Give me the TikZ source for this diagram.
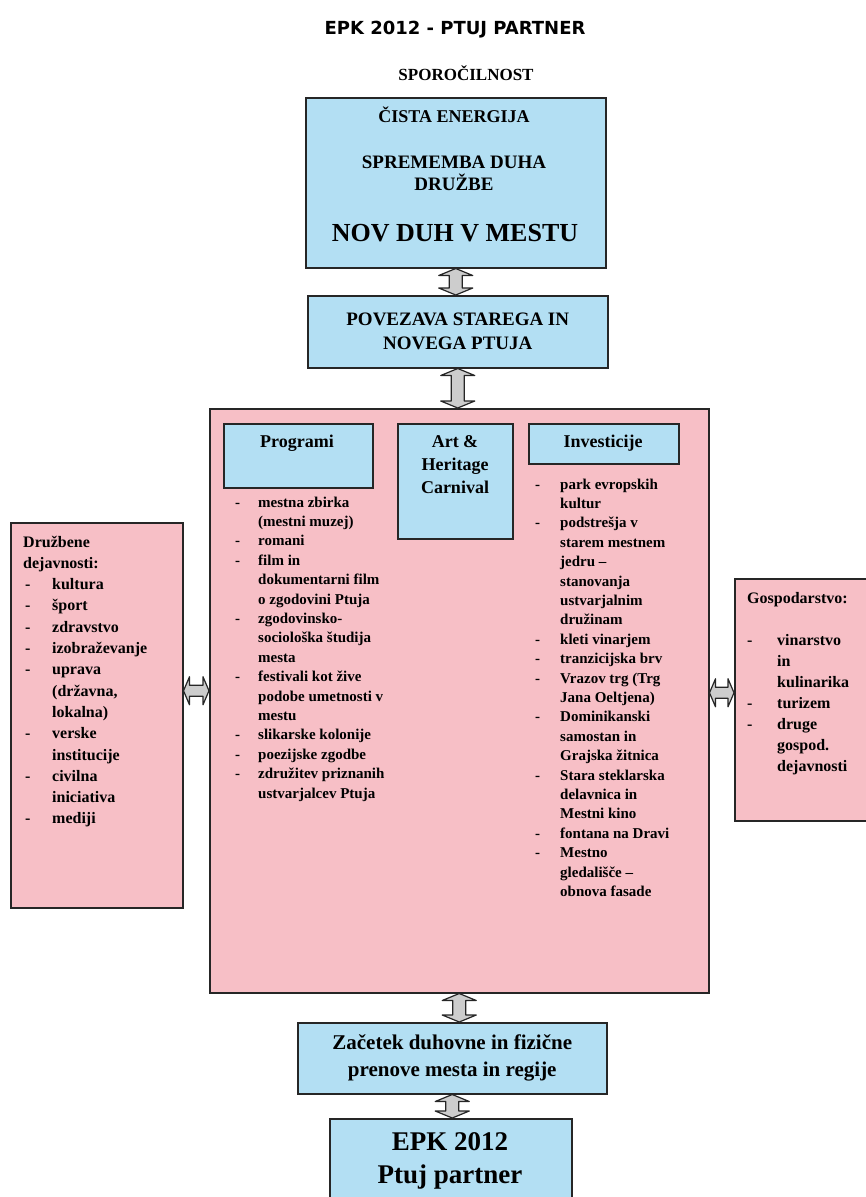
\documentclass[tikz,border=0pt]{standalone}
\usepackage{fontspec}
\setmainfont{Liberation Serif}
\newfontfamily\headfont{DejaVu Sans}
\usetikzlibrary{calc}

\definecolor{boxblue}{RGB}{179,223,243}
\definecolor{boxpink}{RGB}{247,191,198}
\definecolor{linkgrey}{RGB}{205,205,205}

\tikzset{
  bluebox/.style={draw=black!85, line width=1.5pt, fill=boxblue, anchor=north west, inner sep=0pt},
  pinkbox/.style={draw=black!85, line width=1.5pt, fill=boxpink, anchor=north west, inner sep=0pt},
  linkarrow/.style={draw=black!85, line width=1.2pt, fill=linkgrey, line join=round},
  boxtext/.style={align=center, inner sep=0pt},
  itemlist/.style={anchor=base west, inner sep=0pt},
}

% vertical double block arrow between two anchors
\newcommand\vlink[2]{%
  \draw[linkarrow] let \p1=(#1), \p2=(#2) in
    (\x1,\y1) -- (\x1+17pt,\y1-7pt) -- (\x1+6.5pt,\y1-7pt) -- (\x1+6.5pt,\y2+7pt)
    -- (\x1+17pt,\y2+7pt) -- (\x1,\y2) -- (\x1-17pt,\y2+7pt) -- (\x1-6.5pt,\y2+7pt)
    -- (\x1-6.5pt,\y1-7pt) -- (\x1-17pt,\y1-7pt) -- cycle;}
% horizontal double block arrow, height taken from #3
\newcommand\hlink[3]{%
  \draw[linkarrow] let \p1=(#1), \p2=(#2), \p3=(#3) in
    (\x1,\y3) -- (\x1+6pt,\y3+14pt) -- (\x1+6pt,\y3+5.5pt) -- (\x2-6pt,\y3+5.5pt)
    -- (\x2-6pt,\y3+14pt) -- (\x2,\y3) -- (\x2-6pt,\y3-14pt) -- (\x2-6pt,\y3-5.5pt)
    -- (\x1+6pt,\y3-5.5pt) -- (\x1+6pt,\y3-14pt) -- cycle;}

\begin{document}
\begin{tikzpicture}[x=1pt,y=-1pt]
\clip (0,0) rectangle (866,1197);

\node[boxtext, font=\headfont\bfseries\fontsize{18}{20}\selectfont] (title) at (455,30) {EPK 2012 - PTUJ PARTNER};
\node[boxtext, font=\bfseries\fontsize{17}{20}\selectfont] (message) at (466,73) {SPOROČILNOST};

% top
\node[bluebox, minimum width=300pt, minimum height=170pt] (energy) at (305,97) {};
\node[boxtext, font=\bfseries\fontsize{18}{22}\selectfont] (clean) at (454,115) {ČISTA ENERGIJA};
\node[boxtext, font=\bfseries\fontsize{19}{22}\selectfont] (change) at (454,173) {SPREMEMBA DUHA\\DRUŽBE};
\node[boxtext, font=\bfseries\fontsize{26}{30}\selectfont] (spirit) at (455,233) {NOV DUH V MESTU};

\node[bluebox, minimum width=300pt, minimum height=72pt, align=center,
  font=\bfseries\fontsize{19}{24}\selectfont] (link) at (307,295) {POVEZAVA STAREGA IN\\NOVEGA PTUJA};

% middle
\node[pinkbox, minimum width=499pt, minimum height=584pt] (main) at (209,408) {};
\node[bluebox, minimum width=149pt, minimum height=64pt] (programs) at (223,423) {};
\node[boxtext, font=\bfseries\fontsize{18}{20}\selectfont] (programs-title) at (297,443) {Programi};
\node[bluebox, minimum width=115pt, minimum height=115pt] (carnival) at (397,423) {};
\node[boxtext, font=\bfseries\fontsize{18}{23}\selectfont] (carnival-title) at (455,465) {Art \&\\Heritage\\Carnival};
\node[bluebox, minimum width=150pt, minimum height=40pt] (investments) at (528,423) {};
\node[boxtext, font=\bfseries\fontsize{18}{20}\selectfont] (investments-title) at (603,443) {Investicije};

\node[itemlist, font=\bfseries\fontsize{15}{19.4}\selectfont] (programs-list) at (235,507) {%
\begin{tabular}[t]{@{}p{23pt}@{}l@{}}
- & mestna zbirka\\
  & (mestni muzej)\\
- & romani\\
- & film in\\
  & dokumentarni film\\
  & o zgodovini Ptuja\\
- & zgodovinsko-\\
  & sociološka študija\\
  & mesta\\
- & festivali kot žive\\
  & podobe umetnosti v\\
  & mestu\\
- & slikarske kolonije\\
- & poezijske zgodbe\\
- & združitev priznanih\\
  & ustvarjalcev Ptuja
\end{tabular}};

\node[itemlist, font=\bfseries\fontsize{15}{19.4}\selectfont] (investments-list) at (535,489) {%
\begin{tabular}[t]{@{}p{25pt}@{}l@{}}
- & park evropskih\\
  & kultur\\
- & podstrešja v\\
  & starem mestnem\\
  & jedru –\\
  & stanovanja\\
  & ustvarjalnim\\
  & družinam\\
- & kleti vinarjem\\
- & tranzicijska brv\\
- & Vrazov trg (Trg\\
  & Jana Oeltjena)\\
- & Dominikanski\\
  & samostan in\\
  & Grajska žitnica\\
- & Stara steklarska\\
  & delavnica in\\
  & Mestni kino\\
- & fontana na Dravi\\
- & Mestno\\
  & gledališče –\\
  & obnova fasade
\end{tabular}};

% sides
\node[pinkbox, minimum width=172pt, minimum height=385pt] (social) at (10,522) {};
\node[itemlist, font=\bfseries\fontsize{16}{21.3}\selectfont] (social-list) at (23,547) {%
\begin{tabular}[t]{@{}p{29pt}@{}l@{}}
\multicolumn{2}{@{}l@{}}{Družbene}\\
\multicolumn{2}{@{}l@{}}{dejavnosti:}\\
\hspace*{2pt}- & kultura\\
\hspace*{2pt}- & šport\\
\hspace*{2pt}- & zdravstvo\\
\hspace*{2pt}- & izobraževanje\\
\hspace*{2pt}- & uprava\\
  & (državna,\\
  & lokalna)\\
\hspace*{2pt}- & verske\\
  & institucije\\
\hspace*{2pt}- & civilna\\
  & iniciativa\\
\hspace*{2pt}- & mediji
\end{tabular}};

\node[pinkbox, minimum width=140pt, minimum height=242pt] (economy) at (734,578) {};
\node[itemlist, font=\bfseries\fontsize{16}{21}\selectfont] (economy-list) at (747,603) {%
\begin{tabular}[t]{@{}p{30pt}@{}l@{}}
\multicolumn{2}{@{}l@{}}{Gospodarstvo:}\\
 & \\
- & vinarstvo\\
  & in\\
  & kulinarika\\
- & turizem\\
- & druge\\
  & gospod.\\
  & dejavnosti
\end{tabular}};

% bottom
\node[bluebox, minimum width=309pt, minimum height=71pt, align=center,
  font=\bfseries\fontsize{21}{27}\selectfont] (renewal) at (297,1022) {Začetek duhovne in fizične\\prenove mesta in regije};
\node[bluebox, minimum width=242pt, minimum height=100pt] (partner) at (329,1118) {};
\node[boxtext, font=\bfseries\fontsize{27}{33}\selectfont] (partner-title) at (450,1161) {EPK 2012\\Ptuj partner};

% links
\vlink{energy.south}{link.north}
\vlink{link.south}{main.north}
\vlink{main.south}{renewal.north}
\vlink{renewal.south}{partner.north}
\hlink{social.east}{main.west}{[yshift=10pt]main.west}
\hlink{main.east}{economy.west}{[yshift=8pt]main.east}

\end{tikzpicture}
\end{document}
